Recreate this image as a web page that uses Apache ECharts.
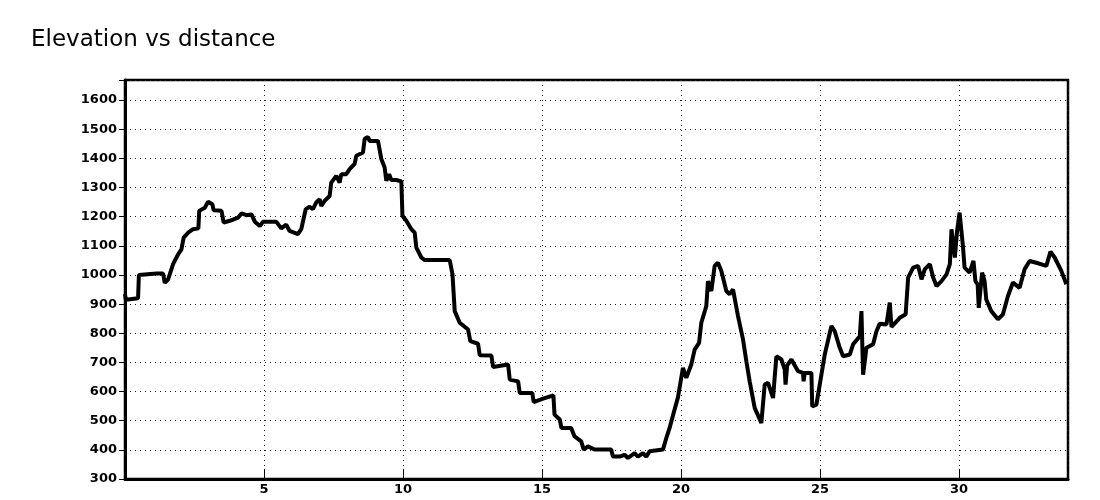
<!DOCTYPE html>
<html>
<head>
<meta charset="utf-8">
<script src="https://cdn.jsdelivr.net/npm/echarts@6/dist/echarts.min.js"></script>
<style>html,body{margin:0;padding:0;background:#fff}#c{width:1100px;height:500px}</style>
</head>
<body>
<div id="c"></div>
<script>
const distanceKm = [0,0.03,0.47,0.50,1.13,1.37,1.43,1.55,1.61,1.73,1.91,2.03,2.11,2.27,2.45,2.64,2.67,2.87,2.99,3.14,3.19,3.47,3.55,3.77,4.07,4.19,4.37,4.55,4.67,4.85,4.97,5.44,5.62,5.80,5.92,6.22,6.34,6.50,6.64,6.76,6.88,7.00,7.06,7.18,7.36,7.42,7.60,7.72,7.78,7.96,8.08,8.26,8.32,8.56,8.62,8.74,8.80,9.10,9.22,9.34,9.40,9.50,9.58,9.76,9.94,9.98,10.12,10.30,10.42,10.48,10.66,10.78,11.68,11.78,11.86,12.04,12.34,12.42,12.70,12.76,13.18,13.24,13.78,13.84,14.14,14.20,14.65,14.70,15.04,15.41,15.45,15.64,15.70,16.05,16.17,16.41,16.50,16.65,16.89,17.49,17.55,17.79,17.97,18.09,18.33,18.45,18.63,18.75,18.87,19.35,19.47,19.59,19.71,19.89,20.07,20.19,20.37,20.49,20.65,20.73,20.91,20.97,21.09,21.21,21.33,21.45,21.63,21.75,21.87,22.05,22.23,22.35,22.47,22.65,22.89,23.01,23.13,23.31,23.43,23.61,23.73,23.76,23.82,23.97,24.21,24.39,24.41,24.45,24.69,24.72,24.87,25.05,25.17,25.41,25.53,25.71,25.83,26.07,26.19,26.43,26.49,26.55,26.67,26.91,27.03,27.15,27.39,27.51,27.57,27.87,28.08,28.17,28.35,28.53,28.65,28.77,28.95,29.07,29.19,29.37,29.55,29.67,29.73,29.85,29.93,30.02,30.14,30.20,30.38,30.52,30.59,30.67,30.71,30.83,30.92,30.98,31.16,31.40,31.58,31.76,31.94,32.18,32.36,32.54,32.78,33.14,33.29,33.44,33.68,33.86];
const elevationM = [935,915,920,1000,1005,1005,973,985,990,1037,1071,1088,1128,1145,1157,1160,1220,1231,1251,1243,1222,1220,1180,1186,1197,1211,1205,1208,1183,1168,1183,1183,1160,1173,1151,1140,1157,1226,1234,1226,1249,1260,1237,1254,1271,1317,1340,1317,1346,1346,1363,1381,1409,1420,1467,1473,1460,1460,1398,1369,1323,1346,1326,1326,1321,1203,1186,1157,1145,1094,1060,1051,1051,1002,876,836,813,773,764,725,724,684,693,641,635,595,595,564,576,587,521,504,475,475,446,429,401,412,401,401,377,377,383,372,389,377,389,377,395,401,440,475,518,580,681,647,693,744,767,836,893,979,945,1031,1042,1014,945,934,951,859,779,704,635,544,492,624,630,578,721,710,676,624,690,710,670,664,635,664,664,549,555,658,727,825,807,750,721,727,762,790,876,658,750,762,807,833,830,905,822,853,865,991,1025,1031,985,1020,1037,991,962,979,1002,1037,1157,1060,1151,1214,1100,1025,1008,1048,979,968,887,1008,979,916,876,848,865,928,974,956,1020,1048,1042,1031,1080,1060,1014,968];
const titleText = 'Elevation vs distance';
const xTickStep = 5;
const yTickStep = 100;
const xMin = 0, xMax = 33.92;
const yMin = 300, yMax = 1669;

const chart = echarts.init(document.getElementById('c'), null, {renderer: 'canvas'});
const labelFont = {color: '#000', fontFamily: 'DejaVu Sans', fontWeight: 'bold', fontSize: 13};
chart.setOption({
  animation: false,
  backgroundColor: '#fff',
  title: {
    text: titleText, left: 26, top: 24,
    textStyle: {fontFamily: 'DejaVu Sans', fontWeight: 'normal', fontSize: 23, color: '#000'}
  },
  grid: {left: 125, right: 32, top: 80, bottom: 21, show: true, borderColor: '#000', borderWidth: 2.5, backgroundColor: 'transparent'},
  xAxis: {
    type: 'value', min: xMin, max: xMax, interval: xTickStep,
    axisLine: {show: true, onZero: false, lineStyle: {color: '#000', width: 3}},
    axisTick: {show: true, inside: true, length: 10, lineStyle: {color: '#000', width: 1}},
    axisLabel: Object.assign({margin: 4, formatter: v => (v > 0 && Math.abs(v % xTickStep) < 1e-9) ? String(v) : ''}, labelFont),
    splitLine: {show: true, lineStyle: {color: '#222', width: 1, type: [1, 4]}}
  },
  yAxis: {
    type: 'value', min: yMin, max: yMax, interval: yTickStep,
    axisLine: {show: true, lineStyle: {color: '#000', width: 3}},
    axisTick: {show: true, inside: false, length: 6, lineStyle: {color: '#000', width: 1}},
    axisLabel: Object.assign({margin: 8, formatter: v => (Math.abs(v % yTickStep) < 1e-9) ? String(v) : ''}, labelFont),
    splitLine: {show: true, lineStyle: {color: '#222', width: 1, type: [1, 4]}}
  },
  series: [{
    type: 'line', showSymbol: false, symbol: 'none',
    data: distanceKm.map((d, i) => [d, elevationM[i]]),
    lineStyle: {color: '#000', width: 4},
    clip: true
  }]
});
</script>
</body>
</html>
